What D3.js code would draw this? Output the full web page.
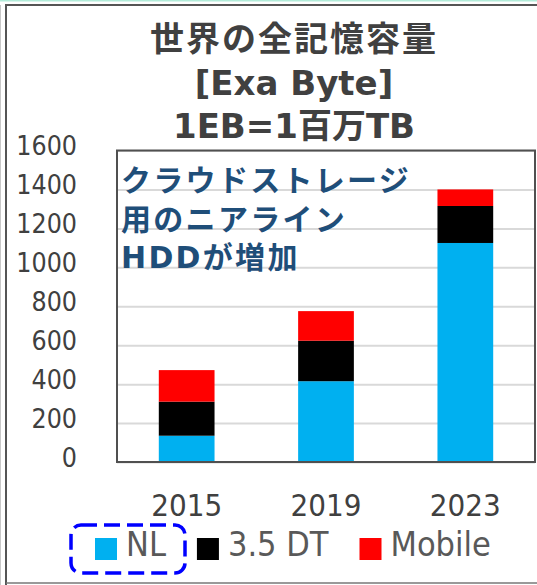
<!DOCTYPE html>
<html><head><meta charset="utf-8">
<script src="https://cdn.jsdelivr.net/npm/d3@7"></script>
<style>
html,body{margin:0;padding:0;background:#fff;}
svg{display:block;}
.cond{font-family:"DejaVu Sans Condensed","DejaVu Sans",sans-serif;font-stretch:condensed;}
.bold{font-family:"DejaVu Sans","Noto Sans CJK JP",sans-serif;font-weight:bold;}
</style></head>
<body>
<script>
const years = ["2015", "2019", "2023"];
const seriesNames = ["NL", "3.5 DT", "Mobile"];
const seriesColors = ["#00b0f0", "#000000", "#ff0000"];
const nlValues = [135, 415, 1125];
const dtValues = [175, 208, 190];
const mobileValues = [162, 152, 85];
const yTicks = [0, 200, 400, 600, 800, 1000, 1200, 1400, 1600];
const titleLines = ["世界の全記憶容量", "[Exa Byte]", "1EB=1百万TB"];
const noteLines = ["クラウドストレージ", "用のニアライン", "HDDが増加"];

const W = 537, H = 585;
const svg = d3.select("body").append("svg").attr("width", W).attr("height", H);

// outer decoration
svg.append("rect").attr("x",0).attr("y",0).attr("width",W).attr("height",1.5).attr("fill","#b3ecd9");
svg.append("line").attr("x1",0.5).attr("x2",0.5).attr("y1",5).attr("y2",H).attr("stroke","#c8c8c8").attr("stroke-width",1);
svg.append("path").attr("d",`M6,${H} V5 H${W}`).attr("fill","none").attr("stroke","#555").attr("stroke-width",2);
svg.append("line").attr("x1",6).attr("x2",W).attr("y1",583).attr("y2",583).attr("stroke","#777").attr("stroke-width",1.5);

const pl = 117, pr = 535, pt = 150.5, pb = 462;
const x = d3.scaleBand().domain(years).range([pl, pr]).paddingInner(0.6).paddingOuter(0.3);
const y = d3.scaleLinear().domain([0, 1600]).range([pb, pt]);

// gridlines
const grid = svg.append("g").attr("transform",`translate(${pl},0)`)
  .call(d3.axisLeft(y).tickValues(yTicks).tickSize(-(pr-pl)).tickFormat(""));
grid.select(".domain").remove();
grid.selectAll(".tick line").attr("stroke","#d9d9d9").attr("stroke-width",2);

// stacked bars
const rows = years.map((yr,i)=>({year:yr, NL:nlValues[i], "3.5 DT":dtValues[i], Mobile:mobileValues[i]}));
const stack = d3.stack().keys(seriesNames)(rows);
svg.append("g").selectAll("g").data(stack).join("g")
  .attr("fill",(d,i)=>seriesColors[i])
  .selectAll("rect").data(d=>d).join("rect")
  .attr("x",d=>x(d.data.year)).attr("width",x.bandwidth())
  .attr("y",d=>y(d[1])).attr("height",d=>y(d[0])-y(d[1]));

// plot frame
svg.append("rect").attr("x",pl).attr("y",pt).attr("width",pr-pl).attr("height",pb-pt)
  .attr("fill","none").attr("stroke","#505050").attr("stroke-width",2);

// y axis labels
const yAxis = svg.append("g").attr("class","cond").attr("transform",`translate(77,-4)`)
  .call(d3.axisLeft(y).tickValues(yTicks).tickSize(0).tickPadding(0).tickFormat(d3.format("d")));
yAxis.select(".domain").remove();
yAxis.selectAll("text").attr("fill","#404040").attr("font-size",26.5).attr("font-family",null);

// x axis labels
const xAxis = svg.append("g").attr("class","cond").attr("transform",`translate(0,493)`)
  .call(d3.axisBottom(x).tickSize(0).tickPadding(0));
xAxis.select(".domain").remove();
xAxis.selectAll("text").attr("fill","#404040").attr("font-size",31).attr("font-family",null).attr("dy","0.75em");

// title
const tBase = [51, 95, 138];
const tSpacing = [2, 0, 0];
svg.append("g").selectAll("text").data(titleLines).join("text")
  .attr("class","bold").attr("x",294).attr("y",(d,i)=>tBase[i])
  .attr("text-anchor","middle").attr("font-size",34).attr("fill","#404040")
  .attr("letter-spacing",(d,i)=>tSpacing[i]).text(d=>d);

// annotation
const nBase = [191, 230, 268];
svg.append("g").selectAll("text").data(noteLines).join("text")
  .attr("class","bold").attr("x",121).attr("y",(d,i)=>nBase[i])
  .attr("font-size",30).attr("fill","#1f4e79").attr("letter-spacing",2.3).text(d=>d);

// legend
const lg = svg.append("g").attr("class","cond");
let lx = 95;
seriesNames.forEach((name,i)=>{
  lg.append("rect").attr("x",lx).attr("y",538).attr("width",22).attr("height",22).attr("fill",seriesColors[i]);
  const t = lg.append("text").attr("x",lx+31).attr("y",556).attr("font-size",34).attr("fill","#595959").text(name);
  lx += 31 + t.node().getComputedTextLength() + 31;
});
// dashed highlight around NL
svg.append("rect").attr("x",71).attr("y",525).attr("width",114).attr("height",48).attr("rx",10)
  .attr("fill","none").attr("stroke","#0000ff").attr("stroke-width",3.5).attr("stroke-dasharray","16 7");
</script>
</body></html>
